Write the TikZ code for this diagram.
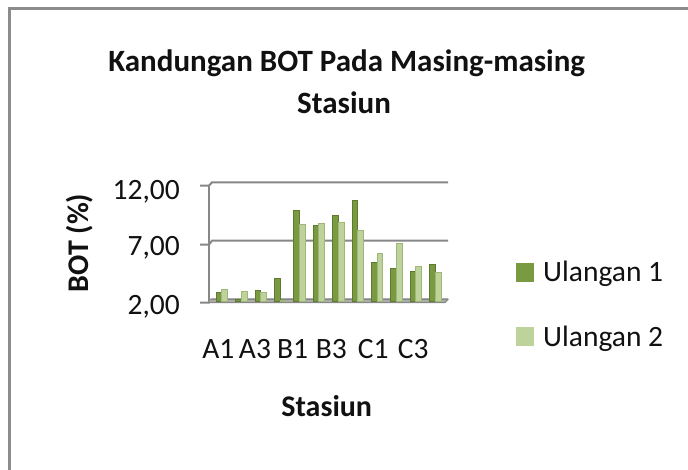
\documentclass[tikz,border=0pt]{standalone}
\usepackage{fontspec}
\setmainfont{Carlito}
\definecolor{ser1}{HTML}{7A9A42}
\definecolor{ser1dark}{HTML}{5E7A30}
\definecolor{ser2}{HTML}{BED39B}
\definecolor{ser2dark}{HTML}{9FB87A}
\definecolor{gridgray}{HTML}{878787}
\definecolor{framegray}{HTML}{8C8C8C}
\definecolor{txt}{HTML}{111111}
\begin{document}
\begin{tikzpicture}[x=1pt,y=-1pt,
  lbl/.style={font=\fontsize{29.5}{35}\selectfont, inner sep=0pt, text=txt},
  blbl/.style={font=\fontsize{30}{35}\selectfont\bfseries, inner sep=0pt, text=txt},
  ttl/.style={font=\fontsize{31}{36}\selectfont\bfseries, inner sep=0pt, text=txt},
  gridline/.style={draw=gridgray, line width=2pt},
  framebox/.style={draw=framegray, line width=3pt},
  bar1/.style={fill=ser1, draw=ser1dark, line width=0.6pt},
  bar2/.style={fill=ser2, draw=ser2dark, line width=0.6pt},
  key1/.style={fill=ser1},
  key2/.style={fill=ser2}]
\useasboundingbox (0,0) rectangle (688,470);
\fill[white] (0,0) rectangle (688,470);
\begin{scope}
  \clip (0,0) rectangle (688,470);
  \draw[framebox] (9.5,480) -- (9.5,8.5) -- (700,8.5);
\end{scope}

% title
\node[ttl, anchor=base] (title1) at (346.7,71.7) {Kandungan BOT Pada Masing-masing};
\node[ttl, anchor=base] (title2) at (344,114) {Stasiun};

% grid and axis
\foreach \yb/\yf in {182.3/185.7, 240.7/244.7, 299.3/302.7} {
  \draw[gridline] (200,\yf) -- (209,\yf) -- (212,\yb) -- (448,\yb);
}
\draw[gridline] (209,185.7) -- (209,302.7);
\filldraw[fill=gridgray!70, draw=gridgray, line width=1pt] (209,299.3) -- (448,299.3) -- (445,302.7) -- (209,302.7) -- cycle;

% bars
\foreach \k/\d/\l in {1/2.86/3.15, 2/2.29/2.94, 3/3.09/2.86, 4/4.09/2.19,
                       5/9.88/8.74, 6/8.66/8.80, 7/9.46/8.86, 8/10.80/8.23,
                       9/5.46/6.23, 10/4.95/7.09, 11/4.66/5.14, 12/5.29/4.60} {
  \pgfmathsetmacro\xa{216+(\k-1)*19.4}
  \pgfmathsetmacro\xb{\xa+5.7}
  \pgfmathsetmacro\xc{\xa+11.4}
  \pgfmathsetmacro\yd{302.7-(\d-2)*11.67}
  \pgfmathsetmacro\yl{302.7-(\l-2)*11.67}
  \filldraw[bar1] (\xa,301) rectangle (\xb,\yd);
  \filldraw[bar2] (\xb,301) rectangle (\xc,\yl);
}

% y labels
\node[lbl, anchor=base east] (y12) at (180,200) {12,00};
\node[lbl, anchor=base east] (y7) at (180,256) {7,00};
\node[lbl, anchor=base east] (y2) at (180,315) {2,00};
\node[blbl, rotate=90] (ytitle) at (80,243) {BOT (\%)};

% x labels
\node[lbl, anchor=base] (xA1) at (218.3,358) {A1};
\node[lbl, anchor=base] (xA3) at (255,358) {A3};
\node[lbl, anchor=base] (xB1) at (292.5,358) {B1};
\node[lbl, anchor=base] (xB3) at (331.3,358) {B3};
\node[lbl, anchor=base] (xC1) at (373.3,358) {C1};
\node[lbl, anchor=base] (xC3) at (413.3,358) {C3};
\node[blbl, anchor=base] (xtitle) at (326.7,416.7) {Stasiun};

% legend
\fill[key1] (516,263) rectangle (534,282);
\node[lbl, anchor=base west] (leg1) at (543,281.7) {Ulangan 1};
\fill[key2] (516,327) rectangle (534,346);
\node[lbl, anchor=base west] (leg2) at (543,346) {Ulangan 2};
\end{tikzpicture}
\end{document}
